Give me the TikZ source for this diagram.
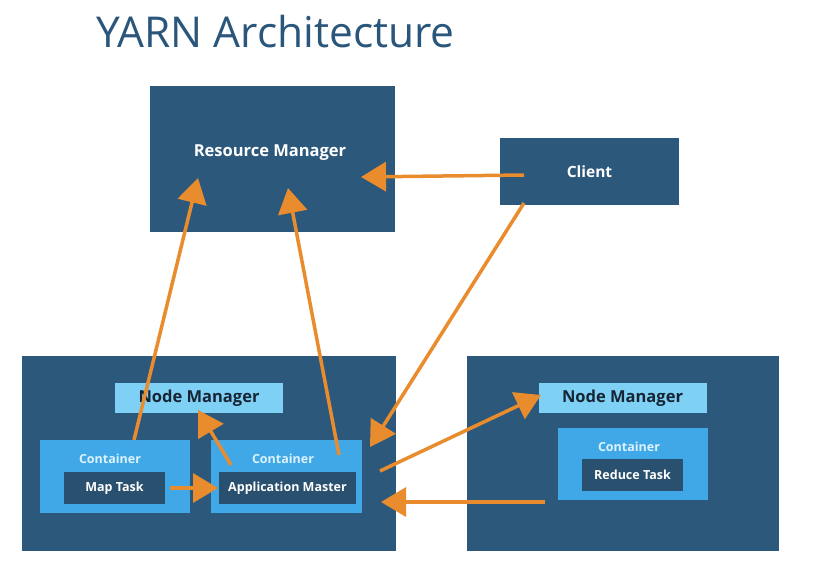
\documentclass[tikz,border=0pt]{standalone}
\usepackage{fontspec}
\setmainfont{Open Sans}
\usetikzlibrary{arrows.meta}
\definecolor{dk}{RGB}{44,88,124}
\definecolor{dkin}{RGB}{42,80,112}
\definecolor{ttl}{RGB}{42,86,124}
\definecolor{nmc}{RGB}{126,208,245}
\definecolor{ctc}{RGB}{64,168,230}
\definecolor{ctt}{RGB}{220,242,255}
\definecolor{nmt}{RGB}{22,36,52}
\definecolor{orc}{RGB}{233,140,45}
\tikzset{
  bigbox/.style={fill=dk, draw=none, inner sep=0pt},
  nmbox/.style={fill=nmc, draw=none, inner sep=0pt, minimum width=168pt, minimum height=30pt,
     text=nmt, font=\bfseries\fontsize{16.5}{18}\selectfont},
  ctbox/.style={fill=ctc, draw=none, inner sep=0pt},
  inbox/.style={fill=dkin, draw=none, inner sep=0pt, minimum height=32pt, text=white,
     font=\bfseries\fontsize{12.5}{14}\selectfont},
  cttext/.style={text=ctt, inner sep=0pt, font=\bfseries\fontsize{12.5}{14}\selectfont},
  wtext/.style={text=white, inner sep=0pt, font=\bfseries\fontsize{16.5}{18}\selectfont},
  arr/.style={draw=orc, line width=3.5pt, -{Triangle[length=25pt,width=29pt]}},
}
\begin{document}
\begin{tikzpicture}[x=1pt,y=-1pt]
\useasboundingbox (0,0) rectangle (816,560);
\fill[white] (0,0) rectangle (816,560);

\node[anchor=base west, inner sep=0pt, text=ttl, font=\fontsize{42.5}{50}\selectfont] (title) at (96,47) {YARN Architecture};

% Resource manager
\node[bigbox, minimum width=245pt, minimum height=146pt] (rm) at (272.5,159) {};
\node[wtext] (rmt) at (270,153) {Resource Manager};
% Client
\node[bigbox, minimum width=179pt, minimum height=67pt, text=white, font=\bfseries\fontsize{15.5}{18}\selectfont] (client) at (589.5,171.5) {Client};

% Left node
\node[bigbox, minimum width=374pt, minimum height=195pt] (ln) at (209,453.5) {};
\node[nmbox] (lnm) at (199,398) {Node Manager};
\node[ctbox, minimum width=150pt, minimum height=73pt] (cl) at (115,476.5) {};
\node[cttext] (clt) at (110,459) {Container};
\node[inbox, minimum width=101pt] (map) at (114.5,488) {Map Task};
\node[ctbox, minimum width=151pt, minimum height=73pt] (cm) at (286.5,476.5) {};
\node[cttext] (cmt) at (283,459) {Container};
\node[inbox, minimum width=137pt] (am) at (287.5,488) {Application Master};

% Right node
\node[bigbox, minimum width=312pt, minimum height=195pt] (rn) at (623,453.5) {};
\node[nmbox] (rnm) at (622.5,398) {Node Manager};
\node[ctbox, minimum width=150pt, minimum height=72pt] (cr) at (633,464) {};
\node[cttext] (crt) at (629,447) {Container};
\node[inbox, minimum width=101pt] (red) at (632.5,475) {Reduce Task};

% connector ends
\coordinate (a1s) at (134,440);
\coordinate (a1e) at (198,178);
\coordinate (a2s) at (339,455);
\coordinate (a2e) at (288,188);
\coordinate (a3s) at (524,175);
\coordinate (a3e) at (361,177);
\coordinate (a4s) at (524,203);
\coordinate (a4e) at (370,447);
\coordinate (a5s) at (231,465);
\coordinate (a5e) at (198,410);
\coordinate (a6s) at (170,488);
\coordinate (a6e) at (218,488);
\coordinate (a7s) at (380,471);
\coordinate (a7e) at (541,395);
\coordinate (a8s) at (545,502);
\coordinate (a8e) at (381,502);

\draw[arr] (a1s) -- (a1e);
\draw[arr] (a2s) -- (a2e);
\draw[arr] (a3s) -- (a3e);
\draw[arr] (a4s) -- (a4e);
\draw[arr] (a5s) -- (a5e);
\draw[arr] (a6s) -- (a6e);
\draw[arr] (a7s) -- (a7e);
\draw[arr] (a8s) -- (a8e);
\end{tikzpicture}
\end{document}
